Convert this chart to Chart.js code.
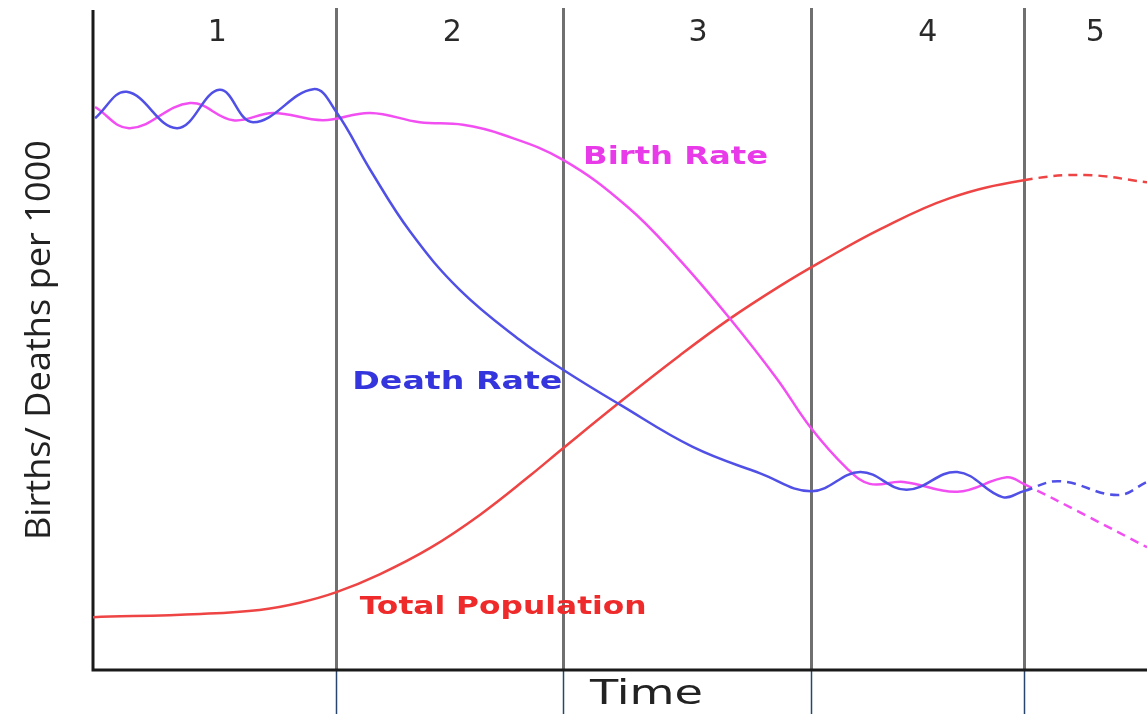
<!DOCTYPE html>
<html>
<head>
<meta charset="utf-8">
<title>Demographic Transition</title>
<script src="https://cdn.jsdelivr.net/npm/chart.js@4"></script>
<style>
  html, body { margin: 0; padding: 0; background: #fff; }
  #wrap { width: 1147px; height: 714px; }
</style>
</head>
<body>
<div id="wrap"><canvas id="dtm"></canvas></div>
<script>
// time axis runs 0..100, rates 0..100 (per 1000, arbitrary scale)
const stageNames = ["1", "2", "3", "4", "5"];
const stageEdges = [23.1, 44.6, 68.1, 88.3];
const stageLabelX = [11.8, 34.1, 57.4, 79.2, 95.1];

const deathX = [0.2, 3.2, 8.0, 12.0, 15.2, 20.9, 23.1, 26.3, 30.1, 34.8, 40.5, 44.6, 50.0, 56.9, 63.3, 68.2, 72.8, 77.2, 82.0, 86.3, 88.3, 91.7, 97.2, 100];
const deathY = [83.6, 87.6, 82.1, 87.9, 83.0, 88.0, 84.5, 75.8, 66.4, 57.6, 50.0, 45.5, 40.2, 33.8, 29.8, 27.1, 30.0, 27.3, 30.0, 26.2, 27.1, 28.6, 26.5, 28.5];

const birthX = [0.2, 3.5, 9.2, 13.3, 17.1, 21.8, 26.3, 31.0, 35.1, 38.9, 44.6, 50.7, 55.4, 60.4, 64.9, 68.1, 71.5, 73.7, 76.9, 82.0, 86.7, 88.3, 94.1, 100];
const birthY = [85.3, 82.1, 85.9, 83.3, 84.4, 83.3, 84.4, 83.0, 82.6, 81.1, 77.3, 70.2, 62.6, 53.3, 44.1, 36.7, 30.6, 28.2, 28.5, 27.0, 29.2, 28.2, 23.5, 18.6];

const popX = [0, 10.2, 15.8, 19.6, 23.1, 27.2, 32.0, 36.7, 41.5, 44.6, 50.0, 55.7, 60.4, 65.2, 69.0, 74.7, 81.3, 88.3, 94.1, 100];
const popY = [8.0, 8.5, 9.1, 10.2, 11.8, 14.5, 18.5, 23.5, 29.5, 33.6, 40.6, 47.7, 53.2, 58.2, 61.8, 66.8, 71.5, 74.2, 75.0, 73.9];

const toPoints = (xs, ys) => xs.map((x, i) => ({ x: x, y: ys[i] }));

// dashed once we are past the start of stage 5
const projected = ctx => ctx.p0.parsed.x >= stageEdges[3] - 0.01 ? [9, 6] : undefined;

const seriesLabels = [
  { text: "Birth Rate", x: 46.5, y: 77.6, w: 185, color: "#e83ae8" },
  { text: "Death Rate", x: 24.6, y: 43.5, w: 210, color: "#3535dd" },
  { text: "Total Population", x: 25.3, y: 9.4, w: 287, color: "#ee2a2a" }
];

// draw text stretched horizontally so it spans `width` px from x (left aligned)
function fitText(ctx, text, x, y, width) {
  const natural = ctx.measureText(text).width;
  ctx.save();
  ctx.translate(x, y);
  ctx.scale(width / natural, 1);
  ctx.textAlign = "left";
  ctx.fillText(text, 0, 0);
  ctx.restore();
}

const frame = {
  id: "frame",
  beforeDatasetsDraw(chart) {
    const { ctx, chartArea: a, scales: { x } } = chart;
    ctx.save();
    // stage dividers
    ctx.strokeStyle = "#707070";
    ctx.lineWidth = 3;
    stageEdges.forEach(v => {
      const px = Math.round(x.getPixelForValue(v)) + 0.5;
      ctx.beginPath();
      ctx.moveTo(px, a.top - 2);
      ctx.lineTo(px, a.bottom);
      ctx.stroke();
    });
    // ticks under the time axis
    ctx.strokeStyle = "#27456e";
    ctx.lineWidth = 1.5;
    stageEdges.forEach(v => {
      const px = Math.round(x.getPixelForValue(v)) + 0.5;
      ctx.beginPath();
      ctx.moveTo(px, a.bottom);
      ctx.lineTo(px, chart.height);
      ctx.stroke();
    });
    // axes
    ctx.strokeStyle = "#1a1a1a";
    ctx.lineWidth = 3;
    ctx.beginPath();
    ctx.moveTo(a.left, a.top);
    ctx.lineTo(a.left, a.bottom);
    ctx.lineTo(a.right, a.bottom);
    ctx.stroke();
    ctx.restore();
  },
  afterDatasetsDraw(chart) {
    const { ctx, chartArea: a, scales: { x, y } } = chart;
    ctx.save();
    ctx.textBaseline = "middle";
    // stage numbers
    ctx.fillStyle = "#2a2a2a";
    ctx.font = "30px 'DejaVu Sans'";
    ctx.textAlign = "center";
    stageNames.forEach((s, i) => {
      ctx.fillText(s, x.getPixelForValue(stageLabelX[i]), y.getPixelForValue(96.5));
    });
    // curve labels
    ctx.font = "bold 24px 'DejaVu Sans'";
    seriesLabels.forEach(l => {
      ctx.fillStyle = l.color;
      fitText(ctx, l.text, x.getPixelForValue(l.x), y.getPixelForValue(l.y), l.w);
    });
    // axis titles
    ctx.fillStyle = "#222";
    ctx.font = "34px 'DejaVu Sans'";
    fitText(ctx, "Time", 590, a.bottom + 25, 113);
    ctx.font = "34px 'Open Sans'";
    ctx.translate(40, 540);
    ctx.rotate(-Math.PI / 2);
    fitText(ctx, "Births/ Deaths per 1000", 0, 0, 400);
    ctx.restore();
  }
};

new Chart(document.getElementById("dtm"), {
  type: "line",
  data: {
    datasets: [
      {
        label: "Death Rate",
        data: toPoints(deathX, deathY),
        borderColor: "#5050e6",
        borderWidth: 2.5,
        segment: { borderDash: projected }
      },
      {
        label: "Birth Rate",
        data: toPoints(birthX, birthY),
        borderColor: "#f24ff2",
        borderWidth: 2.5,
        segment: { borderDash: projected }
      },
      {
        label: "Total Population",
        data: toPoints(popX, popY),
        borderColor: "#ee4444",
        borderWidth: 2.5,
        segment: { borderDash: projected }
      }
    ]
  },
  options: {
    responsive: true,
    maintainAspectRatio: false,
    animation: false,
    layout: { padding: { left: 93, right: 0, top: 10, bottom: 44 } },
    elements: {
      point: { radius: 0 },
      line: { tension: 0.4, fill: false }
    },
    scales: {
      x: { type: "linear", min: 0, max: 100, display: false },
      y: { min: 0, max: 100, display: false }
    },
    plugins: {
      legend: { display: false },
      tooltip: { enabled: false }
    }
  },
  plugins: [frame]
});
</script>
</body>
</html>
